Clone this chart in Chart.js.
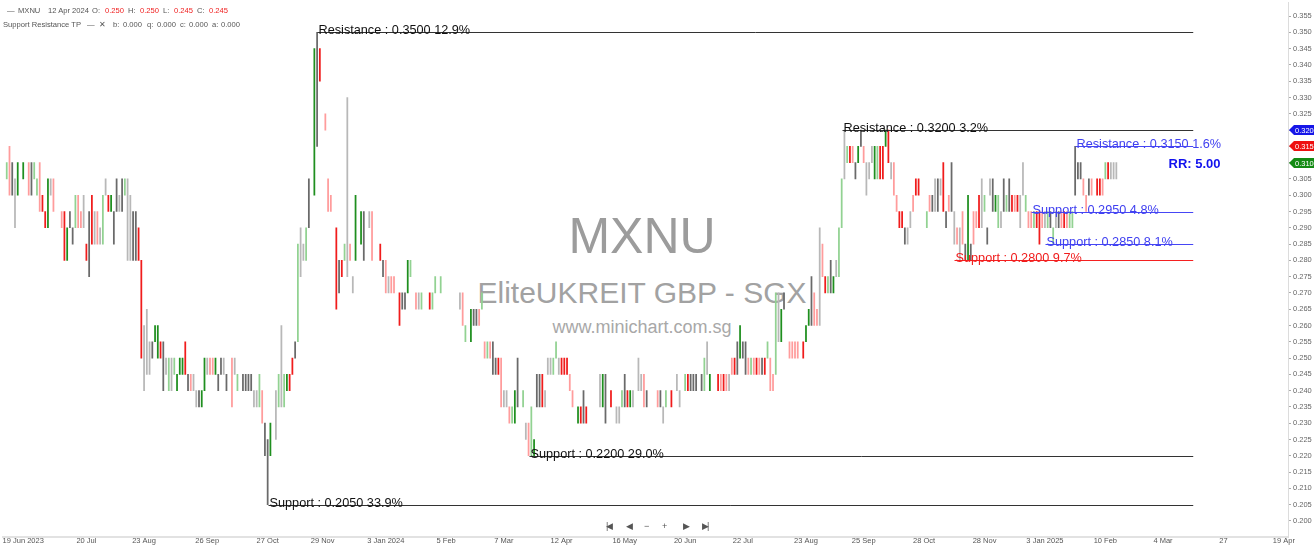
<!DOCTYPE html>
<html>
<head>
<meta charset="utf-8">
<script src="https://cdn.jsdelivr.net/npm/chart.js@4.4.1/dist/chart.umd.min.js"></script>
<style>
html, body { margin: 0; padding: 0; background: #fff; }
#wrap { position: relative; width: 1314px; height: 553px; overflow: hidden; font-family: "Liberation Sans", Arial, sans-serif; }
#chart { position: absolute; left: 0; top: 0; z-index: 1; }
.wm { position: absolute; left: 0; width: 1284px; text-align: center; white-space: nowrap; z-index: 0; }
.lg { position: absolute; font-size: 7.6px; line-height: 8px; color: #555; white-space: nowrap; z-index: 2; }
.red { color: #f02020; }
.nav { position: absolute; top: 520px; font-size: 9px; line-height: 12px; color: #555; z-index: 2; letter-spacing: -2px; }
</style>
</head>
<body>
<div id="wrap">
  <div class="wm" style="top:211px;font-size:50px;line-height:50px;color:#9c9c9c;">MXNU</div>
  <div class="wm" style="top:278px;font-size:30px;line-height:30px;color:#a2a2a2;">EliteUKREIT GBP - SGX</div>
  <div class="wm" style="top:318px;font-size:18px;line-height:18px;color:#a8a8a8;">www.minichart.com.sg</div>

  <span class="lg" style="left:7px;top:7px;">—</span>
  <span class="lg" style="left:18px;top:7px;">MXNU</span>
  <span class="lg" style="left:48px;top:7px;">12 Apr 2024</span>
  <span class="lg" style="left:92px;top:7px;">O:</span>
  <span class="lg red" style="left:105px;top:7px;">0.250</span>
  <span class="lg" style="left:128px;top:7px;">H:</span>
  <span class="lg red" style="left:140px;top:7px;">0.250</span>
  <span class="lg" style="left:163px;top:7px;">L:</span>
  <span class="lg red" style="left:174px;top:7px;">0.245</span>
  <span class="lg" style="left:197px;top:7px;">C:</span>
  <span class="lg red" style="left:209px;top:7px;">0.245</span>

  <span class="lg" style="left:3px;top:21px;">Support Resistance TP</span>
  <span class="lg" style="left:87px;top:21px;">—</span>
  <span class="lg" style="left:99px;top:21px;">✕</span>
  <span class="lg" style="left:113px;top:21px;">b:</span>
  <span class="lg" style="left:123px;top:21px;">0.000</span>
  <span class="lg" style="left:147px;top:21px;">q:</span>
  <span class="lg" style="left:157px;top:21px;">0.000</span>
  <span class="lg" style="left:180px;top:21px;">c:</span>
  <span class="lg" style="left:189px;top:21px;">0.000</span>
  <span class="lg" style="left:212px;top:21px;">a:</span>
  <span class="lg" style="left:221px;top:21px;">0.000</span>

  <span class="nav" style="left:606px;">|◀</span>
  <span class="nav" style="left:626px;">◀</span>
  <span class="nav" style="left:644px;">−</span>
  <span class="nav" style="left:662px;">+</span>
  <span class="nav" style="left:683px;">▶</span>
  <span class="nav" style="left:702px;">▶|</span>

  <canvas id="chart" width="1314" height="553"></canvas>
</div>
<script>
// daily low / high of MXNU, one slot per trading bar (null = no visible bar)
const lows = [
  null,.305,.300,.300,.290,.300,null,.305,null,.300,
  .300,.305,.300,.295,.295,.290,.290,.300,.295,null,
  null,.290,.280,.280,.290,.285,.290,.290,.290,.290,
  .280,.275,.285,.285,.285,.285,.285,.300,.295,.295,
  .285,.295,.295,.295,.300,.280,.280,.280,.280,.280,
  .250,.240,.245,.245,.250,.255,.250,.250,.240,.245,
  .240,.240,.245,.240,.245,.245,.245,.240,.240,.240,
  .235,.235,.235,.240,.245,.245,.245,.245,.240,.245,
  .245,.240,null,.235,.245,.240,null,.240,.240,.240,
  .240,.235,.235,.235,.230,.220,.205,.220,null,.225,
  .235,.235,.235,.240,.240,.245,.250,.255,.275,.280,
  .280,.290,null,.300,.315,.335,null,.320,.295,.295,
  null,.265,.270,.275,.280,.275,.280,.270,.280,null,
  .285,.280,null,.290,.280,null,null,.280,.275,.270,
  .270,.270,.270,null,.260,.265,.265,.270,.275,null,
  .265,.265,.265,null,null,.265,.265,.270,null,.270,
  null,null,null,null,null,null,.265,.260,.255,null,
  .255,.260,.260,.260,.265,.250,.250,.250,.245,.245,
  .245,.235,.235,.235,.230,.230,.230,.235,null,.235,
  .225,.220,.220,.220,.235,.235,.235,.235,.245,.245,
  .245,.250,.245,.245,.245,.245,.240,.235,null,.230,
  .230,.230,.230,null,null,null,null,.235,.235,.230,
  null,.235,null,.230,.230,.235,.235,.235,.235,.235,
  null,.240,.240,.235,.235,null,null,null,.235,.235,
  .230,.235,null,.235,null,.240,.235,null,.240,.240,
  .240,.240,.240,null,.240,.240,.245,.240,null,null,
  .240,.240,.240,.240,.240,.245,.245,.245,.250,.250,
  .245,.245,.245,.245,.245,.245,.245,.245,.250,.240,
  .240,.245,.255,.255,.265,null,.250,.250,.250,.250,
  null,.250,.255,.260,.260,.260,.260,.260,.275,.270,
  .270,.270,.270,.275,.275,.290,.305,.310,.310,.310,
  .305,.310,.315,.310,.300,.305,.310,.305,.305,.305,
  .305,.315,.310,.305,.300,.295,.290,.290,.285,.285,
  .290,.295,.300,.300,null,null,.290,.295,.295,.295,
  .295,.300,.295,.290,.295,.295,.285,.285,.280,.285,
  .280,.280,.280,.285,.290,.290,.290,.295,.285,.300,
  .295,.295,.290,.290,.295,.295,.295,.295,.295,.295,
  .290,.300,.295,.290,.290,.290,.290,.285,.290,.290,
  .290,.290,.285,.290,.290,.290,.290,.290,.290,.290,
  .300,.305,.305,.300,.295,.300,.300,null,.300,.300,
  .300,.305,.305,.305,.305,.305
];
const highs = [
  null,.310,.315,.310,.305,.310,null,.310,null,.310,
  .310,.310,.305,.310,.300,.295,.305,.305,.305,null,
  null,.295,.295,.290,.295,.290,.300,.300,.295,.300,
  .285,.295,.300,.295,.295,.290,.300,.305,.300,.300,
  .295,.305,.300,.305,.305,.305,.300,.295,.295,.290,
  .280,.260,.265,.255,.255,.260,.260,.255,.255,.250,
  .250,.250,.250,.245,.250,.250,.255,.245,.245,.245,
  .240,.240,.240,.250,.250,.250,.250,.250,.245,.250,
  .250,.245,null,.250,.250,.245,null,.245,.245,.245,
  .245,.240,.240,.245,.240,.230,.225,.230,null,.240,
  .245,.260,.245,.245,.245,.250,.255,.285,.290,.285,
  .290,.305,null,.345,.350,.345,null,.325,.305,.300,
  null,.290,.280,.280,.285,.330,.285,.275,.300,null,
  .295,.295,null,.295,.295,null,null,.285,.280,.280,
  .275,.275,.275,null,.270,.270,.270,.280,.280,null,
  .270,.270,.270,null,null,.270,.270,.275,null,.275,
  null,null,null,null,null,null,.270,.270,.260,null,
  .265,.265,.265,.265,.270,.255,.255,.255,.255,.250,
  .250,.250,.240,.240,.235,.235,.240,.250,null,.240,
  .230,.230,.235,.225,.245,.245,.245,.240,.250,.250,
  .250,.255,.250,.250,.250,.250,.245,.240,null,.235,
  .235,.240,.235,null,null,null,null,.245,.245,.245,
  null,.240,null,.235,.235,.240,.245,.240,.240,.240,
  null,.250,.245,.245,.240,null,null,null,.240,.240,
  .235,.240,null,.240,null,.245,.240,null,.245,.245,
  .245,.245,.245,null,.245,.250,.255,.245,null,null,
  .245,.245,.245,.245,.245,.250,.250,.255,.260,.255,
  .255,.250,.250,.250,.250,.250,.250,.250,.255,.250,
  .245,.270,.270,.265,.270,null,.255,.255,.255,.255,
  null,.255,.260,.265,.275,.270,.265,.290,.285,.275,
  .275,.280,.275,.280,.290,.305,.320,.315,.315,.315,
  .310,.315,.320,.315,.310,.310,.315,.315,.315,.315,
  .315,.320,.320,.310,.310,.300,.295,.295,.290,.290,
  .295,.300,.305,.305,null,null,.295,.300,.300,.305,
  .305,.305,.310,.295,.300,.310,.295,.290,.290,.295,
  .285,.300,.285,.295,.295,.300,.305,.300,.290,.305,
  .305,.300,.300,.295,.305,.300,.305,.300,.300,.300,
  .300,.310,.300,.295,.295,.295,.295,.295,.295,.295,
  .295,.295,.290,.295,.295,.295,.295,.295,.295,.295,
  .315,.310,.310,.305,.300,.305,.305,null,.305,.305,
  .305,.310,.310,.310,.310,.310
];
// bar tone: G/g up (dark/light), R/r down, K/k unchanged
const tones = [
  '.grKkG.G.r','KggrRRGkr.','.rRGKKgrrk','RKRkrkgkRG','KKkKgkkKKR',
  'RkkkKGGRKk','gkgGGGRKrk','kKGGkrrGKK','kK.rkg.KKK','KkkgrKKG.k',
  'gkgGRRKgkk','gK.GKR.rrr','.RKRgkrkG.','GK.kr..RKr','krr.RKKGg.',
  'rkg..Rgg.g','......krg.','GKKrgrgrKK','RrkkrgGK.g','krgGKKRkkk',
  'ggkRRRrr.G','RKR....kGK','.R.kkgKRGk','.kkrK...rK','kg.R.kk.gR',
  'KKK.KgkG..','RrRrkrRKGK','KrgrRrKRgr','rgkGK.rrrr','.RGGKrrkrR',
  'gKGkggkgRr','KGKrkkkGgR','RGRkrrRRKk','krRR..grKk','KkRKrKkrkr',
  'KGKrrRkgKk','KGgkKgKRrR','kkgrrgRRrk','gKgkKrRrgg','KKKrrKr.RR',
  'rgRkkk'
].join('');

const slotCount = 468;
const tickIdx  = [7, 30, 51, 74, 96, 116, 139, 161, 182, 203, 226, 248, 269, 292, 313, 335, 357, 379, 401, 422, 444, 466];
const tickText = ['19 Jun 2023', '20 Jul', '23 Aug', '26 Sep', '27 Oct', '29 Nov', '3 Jan 2024', '5 Feb', '7 Mar', '12 Apr', '16 May',
                  '20 Jun', '22 Jul', '23 Aug', '25 Sep', '28 Oct', '28 Nov', '3 Jan 2025', '10 Feb', '4 Mar', '27', '19 Apr'];
const yTickValues = [0.200, 0.205, 0.210, 0.215, 0.220, 0.225, 0.230, 0.235, 0.240, 0.245, 0.250, 0.255, 0.260, 0.265, 0.270, 0.275,
                     0.280, 0.285, 0.290, 0.295, 0.300, 0.305, 0.310, 0.315, 0.320, 0.325, 0.330, 0.335, 0.340, 0.345, 0.350, 0.355];

// support / resistance levels
const levelValue = [0.350, 0.320, 0.220, 0.205, 0.315, 0.295, 0.285, 0.280];
const levelFrom  = [114, 305, 191, 96, 390, 374, 379, 346];
const levelText  = ['Resistance : 0.3500 12.9%', 'Resistance : 0.3200 3.2%', 'Support : 0.2200 29.0%', 'Support : 0.2050 33.9%',
                    'Resistance : 0.3150 1.6%', 'Support : 0.2950 4.8%', 'Support : 0.2850 8.1%', 'Support : 0.2800 9.7%'];
const levelKind  = ['k', 'k', 'k', 'k', 'b', 'b', 'b', 'r'];
const levelTo = 433;

const tagValue = [0.320, 0.315, 0.310];
const tagKind  = ['b', 'r', 'g'];

const toneColor = { G: '#1f8f1f', g: '#92d292', R: '#f01c1c', r: '#ff9c9c', K: '#6a6a6a', k: '#b8b8b8' };
const lineColor = { k: '#333333', b: '#4646f5', r: '#f52020' };
const textColor = { k: '#111111', b: '#4040f0', r: '#f01c1c' };
const tagColor  = { b: '#1616e8', r: '#ee1111', g: '#138a13' };

const tickMap = {};
tickIdx.forEach((ix, n) => { tickMap[ix] = tickText[n]; });
const slots = Array.from({ length: slotCount }, (_, i) => tickMap[i] || '');

const FONT = '"Liberation Sans", Arial, sans-serif';

const overlay = {
    id: 'overlay',
    afterDatasetsDraw(chart) {
        const { ctx, scales: { x, y } } = chart;
        ctx.save();
        ctx.font = '12.7px ' + FONT;
        ctx.textBaseline = 'alphabetic';
        levelValue.forEach((v, n) => {
            const py = Math.round(y.getPixelForValue(v)) + 0.5;
            const x0 = Math.round(x.getPixelForValue(levelFrom[n])) + 0.5;
            const x1 = x.getPixelForValue(levelTo);
            ctx.strokeStyle = lineColor[levelKind[n]];
            ctx.lineWidth = 1;
            ctx.beginPath();
            ctx.moveTo(x0, py);
            ctx.lineTo(x1, py);
            ctx.stroke();
            ctx.fillStyle = textColor[levelKind[n]];
            ctx.fillText(levelText[n], x0 + 1, py + 1);
        });
        ctx.font = 'bold 13px ' + FONT;
        ctx.fillStyle = '#1212ee';
        ctx.fillText('RR: 5.00', x.getPixelForValue(424), y.getPixelForValue(0.3085));
        ctx.restore();
    },
    afterDraw(chart) {
        const { ctx, chartArea, scales: { y } } = chart;
        ctx.save();
        ctx.font = '7.5px ' + FONT;
        ctx.textBaseline = 'middle';
        tagValue.forEach((v, n) => {
            const py = Math.round(y.getPixelForValue(v));
            const left = chartArea.right + 1;
            ctx.fillStyle = tagColor[tagKind[n]];
            ctx.beginPath();
            ctx.moveTo(left, py);
            ctx.lineTo(left + 5, py - 5);
            ctx.lineTo(1314, py - 5);
            ctx.lineTo(1314, py + 5);
            ctx.lineTo(left + 5, py + 5);
            ctx.closePath();
            ctx.fill();
            ctx.fillStyle = '#ffffff';
            ctx.fillText(v.toFixed(3), left + 6, py + 0.5);
        });
        ctx.restore();
    }
};

new Chart(document.getElementById('chart'), {
    type: 'bar',
    data: {
        labels: slots,
        datasets: [{
            data: lows.map((lo, i) => lo === null ? null : [lo, highs[i]]),
            backgroundColor: lows.map((lo, i) => toneColor[tones[i]] || 'rgba(0,0,0,0)'),
            barThickness: 1.1,
            borderWidth: 0
        }]
    },
    options: {
        responsive: false,
        animation: false,
        devicePixelRatio: 1,
        events: [],
        layout: { padding: 0 },
        plugins: { legend: { display: false }, tooltip: { enabled: false } },
        scales: {
            x: {
                type: 'category',
                offset: true,
                grid: { display: false, drawTicks: false },
                border: { display: true, color: '#e2e2e2', width: 2 },
                afterFit: s => { s.height = 16; },
                ticks: {
                    autoSkip: false, maxRotation: 0, minRotation: 0,
                    padding: 4, color: '#555', font: { size: 7.5, family: FONT, lineHeight: 0.1 },
                    callback: (v, i) => tickMap[i] || ''
                }
            },
            y: {
                position: 'right',
                min: 0.19506,
                max: 0.35921,
                afterBuildTicks: s => { s.ticks = yTickValues.map(v => ({ value: v })); },
                afterFit: s => { s.width = 26; },
                grid: { drawOnChartArea: false, drawTicks: true, tickLength: 3, color: '#aaaaaa' },
                border: { display: true, color: '#dcdcdc', width: 1 },
                ticks: {
                    padding: 2, color: '#666', font: { size: 7.5, family: FONT, lineHeight: 0.1 },
                    callback: v => Number(v).toFixed(3)
                }
            }
        }
    },
    plugins: [overlay]
});
</script>
</body>
</html>
